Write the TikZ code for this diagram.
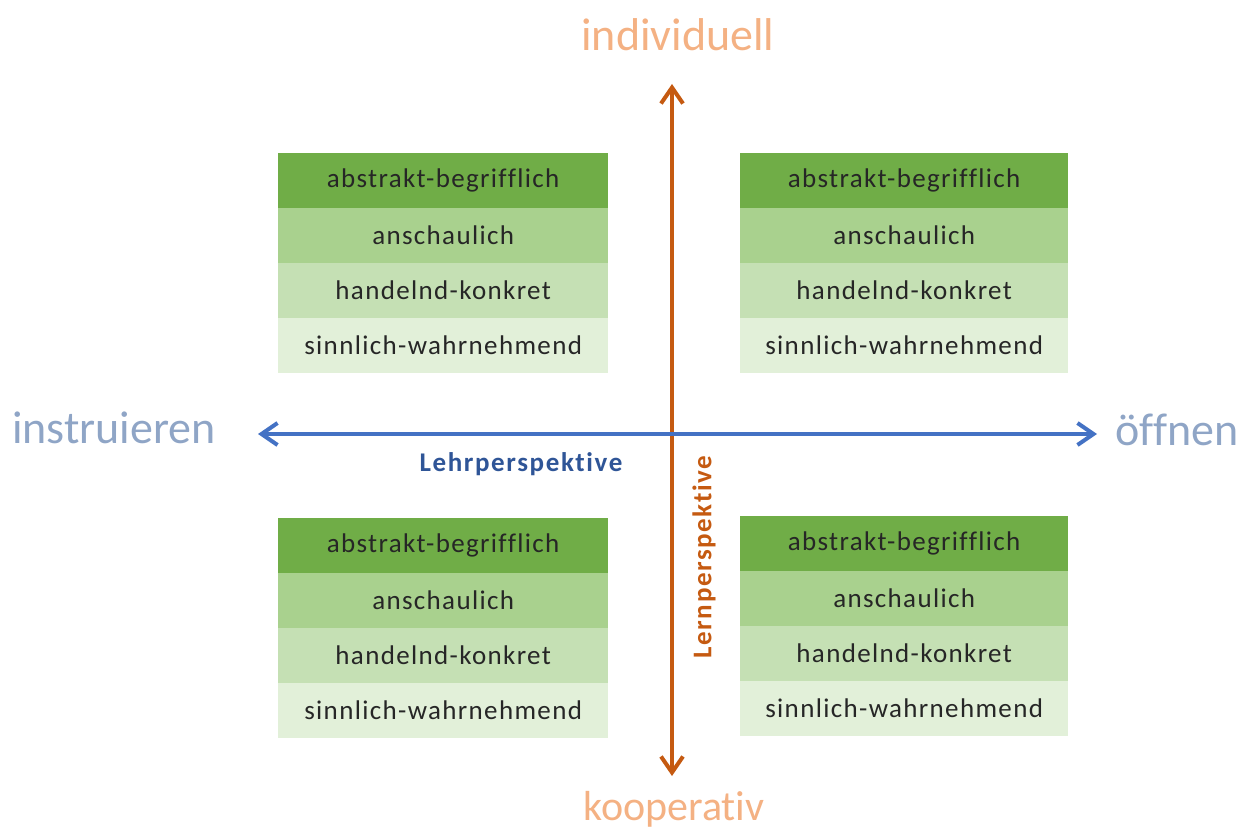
\documentclass[tikz,border=0pt]{standalone}
\usepackage{fontspec}
\setmainfont{Carlito}[Ligatures=NoCommon]
\newfontfamily\cellfont[LetterSpace=5,Ligatures=NoCommon]{Carlito}
\newfontfamily\perspfont[LetterSpace=6,Ligatures=NoCommon]{Carlito}
\usetikzlibrary{arrows.meta}
\definecolor{gA}{HTML}{70AD47}
\definecolor{gB}{HTML}{A9D18E}
\definecolor{gC}{HTML}{C5E0B4}
\definecolor{gD}{HTML}{E2F0D9}
\definecolor{axB}{HTML}{4472C4}
\definecolor{axO}{HTML}{C55A11}
\definecolor{lblB}{HTML}{8FA5C6}
\definecolor{lblO}{HTML}{F4B183}
\definecolor{dkB}{HTML}{2F5597}
\tikzset{
  cell/.style={minimum width=330pt, minimum height=55pt, inner sep=0pt, anchor=north west, font=\cellfont\fontsize{27}{30}\selectfont, text=black!85},
  r1/.style={cell, fill=gA},
  r2/.style={cell, fill=gB},
  r3/.style={cell, fill=gC},
  r4/.style={cell, fill=gD},
  axis/.style={line width=4pt, {Straight Barb[length=16pt,width=22pt,line width=4pt]}-{Straight Barb[length=16pt,width=22pt,line width=4pt]}},
  outer/.style={font=\fontsize{46}{50}\selectfont},
  persp/.style={font=\perspfont\bfseries\fontsize{27}{30}\selectfont},
}
\begin{document}
\begin{tikzpicture}[x=1pt,y=-1pt]
\useasboundingbox (0,0) rectangle (1239,832);
% top-left
\node[r1] (tl1) at (278,153) {abstrakt-begrifflich};
\node[r2] (tl2) at (278,208) {anschaulich};
\node[r3] (tl3) at (278,263) {handelnd-konkret};
\node[r4] (tl4) at (278,318) {sinnlich-wahrnehmend};
% top-right
\node[r1,minimum width=328pt] (tr1) at (740,153) {abstrakt-begrifflich};
\node[r2,minimum width=328pt] (tr2) at (740,208) {anschaulich};
\node[r3,minimum width=328pt] (tr3) at (740,263) {handelnd-konkret};
\node[r4,minimum width=328pt] (tr4) at (740,318) {sinnlich-wahrnehmend};
% bottom-left
\node[r1] (bl1) at (278,518) {abstrakt-begrifflich};
\node[r2] (bl2) at (278,573) {anschaulich};
\node[r3] (bl3) at (278,628) {handelnd-konkret};
\node[r4] (bl4) at (278,683) {sinnlich-wahrnehmend};
% bottom-right
\node[r1,minimum width=328pt] (br1) at (740,516) {abstrakt-begrifflich};
\node[r2,minimum width=328pt] (br2) at (740,571) {anschaulich};
\node[r3,minimum width=328pt] (br3) at (740,626) {handelnd-konkret};
\node[r4,minimum width=328pt] (br4) at (740,681) {sinnlich-wahrnehmend};
% outer labels
\node[outer, text=lblO] (ind) at (678,35) {individuell};
\node[outer, text=lblO, font=\fontsize{42}{46}\selectfont, anchor=base, inner sep=0pt] (koop) at (674,820) {kooperativ};
\node[outer, text=lblB] (instr) at (114,428) {instruieren};
\node[outer, text=lblB] (oeff) at (1177,430) {öffnen};
% axes
\coordinate (vt) at (672,84);
\coordinate (vb) at (672,776);
\coordinate (hl) at (258,434);
\coordinate (hr) at (1097,434);
\draw[axis, axO] (vt) -- (vb);
\draw[axis, axB] (hl) -- (hr);
\node[persp, text=dkB] (lehr) at (521,464) {Lehrperspektive};
\node[persp, text=axO, rotate=90] (lern) at (704,557) {Lernperspektive};
\end{tikzpicture}
\end{document}
